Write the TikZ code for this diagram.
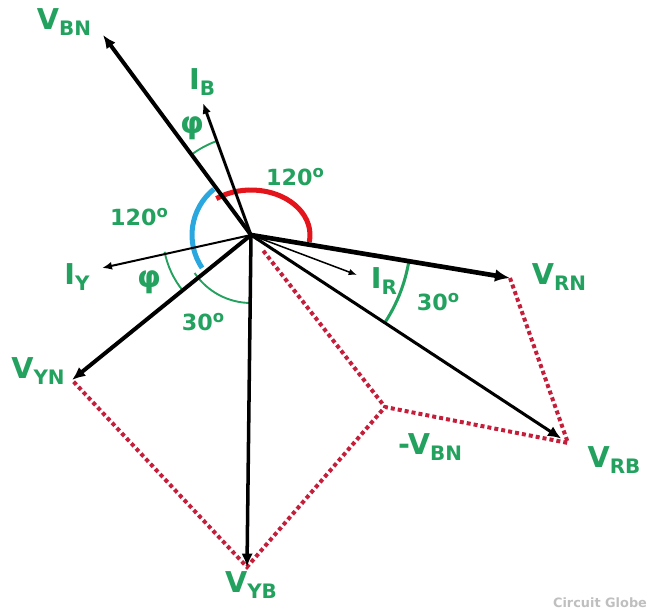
\documentclass[tikz,border=0pt]{standalone}
\usepackage{fontspec}
\setmainfont{DejaVu Sans}
\usetikzlibrary{arrows.meta}
\definecolor{leaf}{HTML}{23A15E}
\definecolor{wine}{HTML}{C41E3A}
\definecolor{scarlet}{HTML}{E3141B}
\definecolor{sky}{HTML}{2BA7DF}
\newcommand{\ph}[2]{{\fontsize{24.5}{26}\selectfont #1}{\fontsize{17}{18}\selectfont\raisebox{-4.5pt}{#2}}}
\newcommand{\dg}[1]{#1{\fontsize{14}{14}\selectfont\raisebox{6.2pt}{o}}}
\tikzset{
  lab/.style={text=leaf,font=\bfseries,inner sep=0pt},
  ang/.style={text=leaf,font=\bfseries\fontsize{19}{20}\selectfont,inner sep=0pt},
  phi/.style={text=leaf,font=\bfseries\fontsize{26}{27}\selectfont,inner sep=0pt},
  vec/.style={draw=black,-{Latex[length=4mm,width=3.4mm]}},
  dots/.style={draw=wine,line width=3.4pt,dash pattern=on 3.4pt off 2.6pt},
  swing/.style={draw=leaf,line width=1.6pt}
}

\begin{document}
\begin{tikzpicture}[x=0.3mm,y=0.3mm]
        \useasboundingbox (0,0) rectangle (662,613);
        \coordinate (o) at (251,378);
        \coordinate (bn) at (103,578);
        \coordinate (ib) at (203,510);
        \coordinate (iy) at (102,345);
        \coordinate (yn) at (72,233);
        \coordinate (yb) at (247,46);
        \coordinate (rn) at (510,335);
        \coordinate (ir) at (357,338);
        \coordinate (rb) at (568,170);
        \coordinate (mbn) at (385,206);
        \draw[dots] (rn) -- (rb) -- (mbn) -- (yb) -- (yn);
        \draw[dots,shorten <=6mm] (o) -- (mbn);
        \draw[scarlet,line width=4.3pt] ([shift={(126:59 and 45)}]o) arc[start angle=126,end angle=-9,x radius=59,y radius=45];
        \draw[sky,line width=4.3pt] ([shift={(129:59)}]o) arc[start angle=129,end angle=214,radius=59];
        \draw[swing] ([shift={(110:100)}]o) arc[start angle=110,end angle=126,radius=100];
        \draw[swing] ([shift={(191:88)}]o) arc[start angle=191,end angle=219,radius=88];
        \draw[swing] ([shift={(214:68)}]o) arc[start angle=214,end angle=270,radius=68];
        \draw[swing,line width=2.6pt] ([shift={(-33:160)}]o) arc[start angle=-33,end angle=-9,radius=160];
        \draw[vec,line width=3.4pt] (o) -- (bn);
        \draw[vec,line width=2.5pt,-{Latex[length=3.2mm,width=2.6mm]}] (o) -- (ib);
        \draw[vec,line width=1.7pt,-{Latex[length=3mm,width=2.4mm]}] (o) -- (iy);
        \draw[vec,line width=3.4pt] (o) -- (yn);
        \draw[vec,line width=3pt] (o) -- (yb);
        \draw[vec,line width=4pt,-{Latex[length=4.5mm,width=3.8mm]}] (o) -- (rn);
        \draw[vec,line width=1.3pt,-{Latex[length=2.5mm,width=2mm]}] (o) -- (ir);
        \draw[vec,line width=2.6pt,shorten >=2.4mm] (o) -- (rb);
        \node[lab] (lbn) at (64,591) {\ph{V}{BN}};
        \node[lab] (lib) at (202,531) {\ph{I}{B}};
        \node[phi] (phb) at (192,485) {φ};
        \node[ang] (top) at (295,436) {\dg{120}};
        \node[ang] (lft) at (139,396) {\dg{120}};
        \node[lab] (liy) at (77,336) {\ph{I}{Y}};
        \node[phi] (phy) at (149,331) {φ};
        \node[ang] (bot) at (203,291) {\dg{30}};
        \node[lab] (lir) at (384,332) {\ph{I}{R}};
        \node[ang] (rgt) at (438,311) {\dg{30}};
        \node[lab] (lrn) at (559,336) {\ph{V}{RN}};
        \node[lab] (lyn) at (38,242) {\ph{V}{YN}};
        \node[lab] (lyb) at (251,28) {\ph{V}{YB}};
        \node[lab] (lrb) at (614,153) {\ph{V}{RB}};
        \node[lab] (lm) at (430,166) {\ph{-V}{BN}};
        \node[font=\bfseries\fontsize{11}{12}\selectfont,text=black!25,inner sep=0pt] (cg) at (600,10) {Circuit Globe};
      \end{tikzpicture}
\end{document}
